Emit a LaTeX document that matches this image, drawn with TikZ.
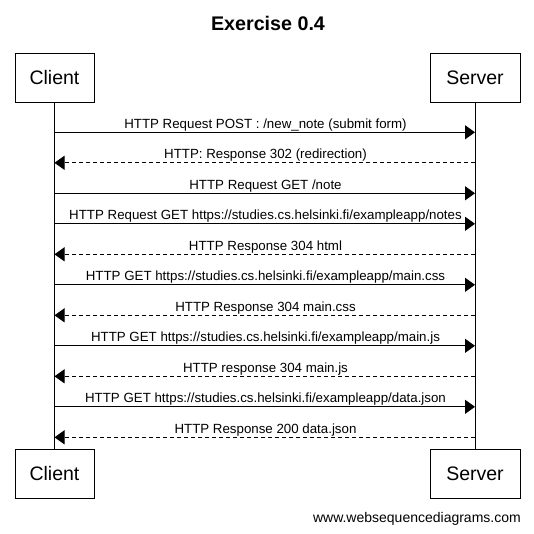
\documentclass[tikz,border=0pt]{standalone}
\usepackage{fontspec}
\setmainfont{Liberation Sans}
\usetikzlibrary{arrows.meta}
\tikzset{
  actor/.style={draw, line width=1pt, minimum height=49pt, inner sep=0pt, font=\fontsize{19.5}{22}\selectfont},
  lifeline/.style={line width=1pt},
  req/.style={line width=1pt, -{Triangle[length=10pt,width=14pt]}},
  resp/.style={line width=1pt, dash pattern=on 4pt off 3pt, -{Triangle[length=10pt,width=14pt]}},
  msg/.style={anchor=base, inner sep=0pt, font=\fontsize{13.3}{15}\selectfont},
}
\begin{document}
\begin{tikzpicture}[x=1pt,y=-1pt]
\useasboundingbox (0,0) rectangle (534,533);
\node[anchor=base, font=\bfseries\fontsize{19.7}{22}\selectfont] (title) at (268,30) {Exercise 0.4};
\node[actor, minimum width=79pt] (cT) at (54.5,77.5) {Client};
\node[actor, minimum width=90pt] (sT) at (475,77.5) {Server};
\node[actor, minimum width=79pt] (cB) at (54.5,474) {Client};
\node[actor, minimum width=90pt] (sB) at (475,474) {Server};
\draw[lifeline] (cT.south) -- (cB.north);
\draw[lifeline] (sT.south) -- (sB.north);
\foreach \i/\y in {1/132.3,2/162.8,3/193.3,4/223.8,5/254.3,6/284.8,7/315.3,8/345.8,9/376.3,10/406.8,11/437.3}{
  \coordinate (c\i) at (54.5,\y);
  \coordinate (s\i) at (475,\y);
  \coordinate (m\i) at (265.5,\y-4);
}
\draw[req] (c1) -- (s1);
\node[msg] (l1) at (m1) {HTTP Request POST : /new\_note (submit form)};
\draw[resp] (s2) -- (c2);
\node[msg] (l2) at (m2) {HTTP: Response 302 (redirection)};
\draw[req] (c3) -- (s3);
\node[msg] (l3) at (m3) {HTTP Request GET /note};
\draw[req] (c4) -- (s4);
\node[msg] (l4) at (m4) {HTTP Request GET https://studies.cs.helsinki.fi/exampleapp/notes};
\draw[resp] (s5) -- (c5);
\node[msg] (l5) at (m5) {HTTP Response 304 html};
\draw[req] (c6) -- (s6);
\node[msg] (l6) at (m6) {HTTP GET https://studies.cs.helsinki.fi/exampleapp/main.css};
\draw[resp] (s7) -- (c7);
\node[msg] (l7) at (m7) {HTTP Response 304 main.css};
\draw[req] (c8) -- (s8);
\node[msg] (l8) at (m8) {HTTP GET https://studies.cs.helsinki.fi/exampleapp/main.js};
\draw[resp] (s9) -- (c9);
\node[msg] (l9) at (m9) {HTTP response 304 main.js};
\draw[req] (c10) -- (s10);
\node[msg] (l10) at (m10) {HTTP GET https://studies.cs.helsinki.fi/exampleapp/data.json};
\draw[resp] (s11) -- (c11);
\node[msg] (l11) at (m11) {HTTP Response 200 data.json};
\node[anchor=base east, inner sep=0pt, font=\fontsize{14}{16}\selectfont] (footer) at (521,522) {www.websequencediagrams.com};
\end{tikzpicture}
\end{document}
